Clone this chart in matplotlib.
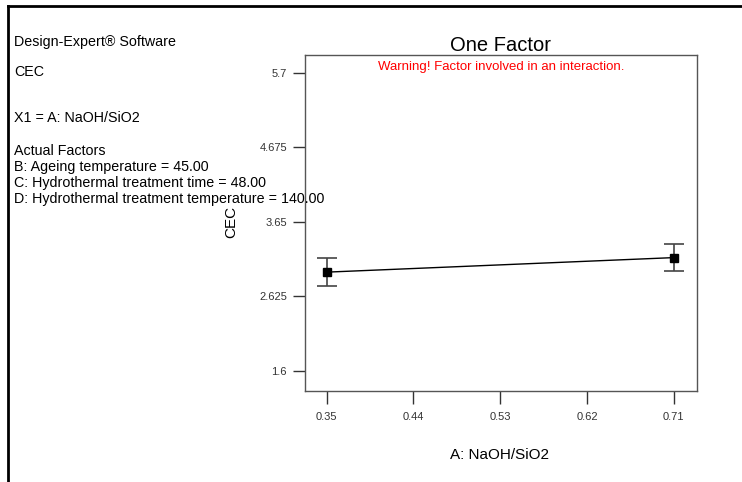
import matplotlib
matplotlib.use("Agg")
import matplotlib.pyplot as plt
from matplotlib.lines import Line2D

plt.rcParams["font.family"] = ["Liberation Sans", "DejaVu Sans"]

# factor levels and predicted CEC with error bars
naoh_sio2 = [0.35, 0.71]
cec = [2.96, 3.16]
cec_err = [0.19, 0.19]

x_ticks = [0.35, 0.44, 0.53, 0.62, 0.71]
x_tick_labels = ["0.35", "0.44", "0.53", "0.62", "0.71"]
y_ticks = [1.6, 2.625, 3.65, 4.675, 5.7]
y_tick_labels = ["1.6", "2.625", "3.65", "4.675", "5.7"]

info_lines = [
    ("Design-Expert® Software", 42),
    ("CEC", 72),
    ("X1 = A: NaOH/SiO2", 118),
    ("Actual Factors", 151),
    ("B: Ageing temperature = 45.00", 167),
    ("C: Hydrothermal treatment time = 48.00", 183),
    ("D: Hydrothermal treatment temperature = 140.00", 199),
]

W, H = 742, 482
fig = plt.figure(figsize=(W / 100, H / 100), dpi=100)
# plot box: x 305..697, y 55..391 px
ax = fig.add_axes([305 / W, 1 - 391 / H, (697 - 305) / W, (391 - 55) / H])

ax.errorbar(naoh_sio2, cec, yerr=cec_err, fmt="none", ecolor="#444444",
            elinewidth=1.2, capsize=7, capthick=1.2, zorder=2)
ax.plot(naoh_sio2, cec, color="black", lw=1.0, zorder=3)
ax.plot(naoh_sio2, cec, ls="none", marker="s", ms=6, color="black", zorder=4)

ax.set_xlim(0.3275, 0.734)
ax.set_ylim(1.325, 5.947)
ax.set_xticks(x_ticks)
ax.set_xticklabels(x_tick_labels)
ax.set_yticks(y_ticks)
ax.set_yticklabels(y_tick_labels)
ax.tick_params(direction="out", length=9, width=1, colors="#333333",
               labelsize=8, pad=4)
ax.tick_params(axis="x", pad=6)
for s in ax.spines.values():
    s.set_color("#555555")
    s.set_linewidth(1)

ax.set_title("One Factor", fontsize=14.5, pad=2)
ax.text(0.5, 0.965, "Warning! Factor involved in an interaction.", color="red",
        fontsize=9.5, ha="center", va="center", transform=ax.transAxes)

fig.text(500 / W, 1 - 455 / H, "A: NaOH/SiO2", fontsize=11, ha="center", va="center")
fig.text(231 / W, 1 - 222 / H, "CEC", fontsize=11, rotation=90, ha="center", va="center")

for txt, y in info_lines:
    fig.text(14 / W, 1 - y / H, txt, fontsize=10.3, ha="left", va="center")

# outer frame: top and left edges
fig.add_artist(Line2D([8 / W, 1], [1 - 6 / H, 1 - 6 / H], color="black", lw=2,
                      transform=fig.transFigure))
fig.add_artist(Line2D([8 / W, 8 / W], [0, 1 - 6 / H], color="black", lw=2,
                      transform=fig.transFigure))

fig.savefig("out.png", dpi=100)
